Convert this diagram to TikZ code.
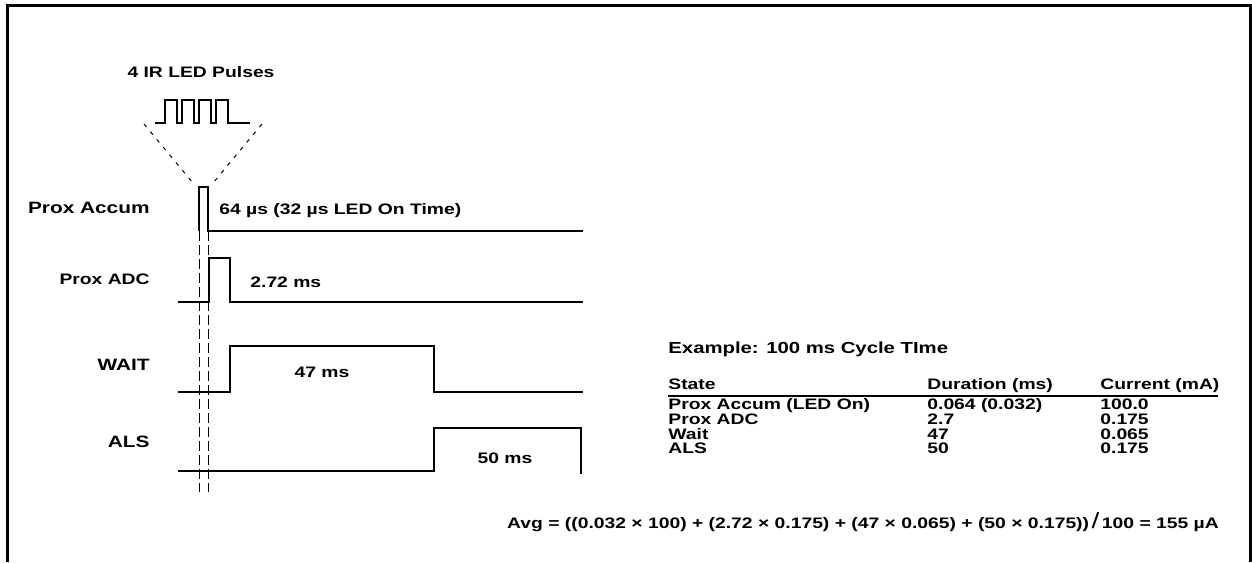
\documentclass[tikz,border=0pt]{standalone}
\usepackage{fontspec}
\setmainfont[FakeStretch=1.27]{Liberation Sans}
\usetikzlibrary{positioning}
\tikzset{
  sig/.style={line width=1.45pt},
  guide/.style={line width=0.5pt, dash pattern=on 5pt off 2pt},
  cone/.style={line width=0.5pt, dash pattern=on 2pt off 3pt},
  lbl/.style={font=\fontsize{7.6}{7.6}\selectfont\bfseries, inner sep=0pt},
  cell/.style={lbl, anchor=base west},
}
\begin{document}
\begin{tikzpicture}[x=0.5pt, y=-0.5pt]
      \useasboundingbox (0,0) rectangle (1252,562);
      \draw[line width=1.5pt] (7,562) -- (7,5) -- (1250,5) -- (1250,562);
      % pulse train and its cone
      \node[lbl] (title) at (201,72) {4 IR LED Pulses};
      \draw[line width=1.3pt] (155,123) -- (165,123) -- (165,100) -- (177,100) -- (177,123)
        -- (182,123) -- (182,100) -- (194,100) -- (194,123)
        -- (199,123) -- (199,100) -- (211,100) -- (211,123)
        -- (216,123) -- (216,100) -- (228,100) -- (228,123) -- (250,123);
      \draw[cone] (144,124) -- (193,183);
      \draw[cone] (262,124) -- (213,183);
      % signal names
      \draw
        (150,208) node[lbl, anchor=east] (accum){\fontsize{8.2}{8.2}\selectfont Prox Accum}
        (150,279) node[lbl, anchor=east] (adc){Prox ADC}
        (150,365) node[lbl, anchor=east] (wait){\fontsize{8.2}{8.2}\selectfont WAIT}
        (150,442) node[lbl, anchor=east] (als){\fontsize{8.2}{8.2}\selectfont ALS};
      % waveforms
      \begin{scope}[sig]
        \draw (199,231) -- (199,187) -- (208,187) -- (208,231) -- (583,231);
        \draw (178,302) -- (209,302) -- (209,258) -- (230,258) -- (230,302) -- (583,302);
        \draw (178,392) -- (230,392) -- (230,346) -- (434,346) -- (434,392) -- (583,392);
        \draw (178,471) -- (434,471) -- (434,428) -- (581,428) -- (581,474);
      \end{scope}
      \draw[guide] (199,231) -- (199,492);
      \draw[guide] (208,231) -- (208,492);
      \node[lbl, anchor=west] (taccum) at (219,211) {64 µs (32 µs LED On Time)};
      \node[lbl, anchor=west] (tadc) at (250,282) {2.72 ms};
      \node[lbl] (twait) at (322,372) {47 ms};
      \node[lbl] (tals) at (505,458) {50 ms};
      % example table
      \node[cell] (example) at (668,353) {\fontsize{8}{8}\selectfont Example: 100 ms Cycle TIme};
      \draw
        (668,389) node[cell] (hstate){State}
        (927,389) node[cell] (hdur){Duration (ms)}
        (1100,389) node[cell] (hcur){Current (mA)};
      \draw[line width=0.7pt] (668,396) -- (1218,396);
      \draw
        (668,409) node[cell] (s1){Prox Accum (LED On)}
        (927,409) node[cell] (d1){0.064 (0.032)}
        (1100,409) node[cell] (c1){100.0}
        (668,424) node[cell] (s2){Prox ADC}
        (927,424) node[cell] (d2){2.7}
        (1100,424) node[cell] (c2){0.175}
        (668,439) node[cell] (s3){Wait}
        (927,439) node[cell] (d3){47}
        (1100,439) node[cell] (c3){0.065}
        (668,453) node[cell] (s4){ALS}
        (927,453) node[cell] (d4){50}
        (1100,453) node[cell] (c4){0.175};
      \node[lbl] (avg) at (863,522) {Avg = ((0.032 × 100) + (2.72 × 0.175) + (47 × 0.065) + (50 × 0.175))\,{\fontsize{11}{11}\selectfont\mdseries /}\,100 = 155 µA};
    \end{tikzpicture}
\end{document}
